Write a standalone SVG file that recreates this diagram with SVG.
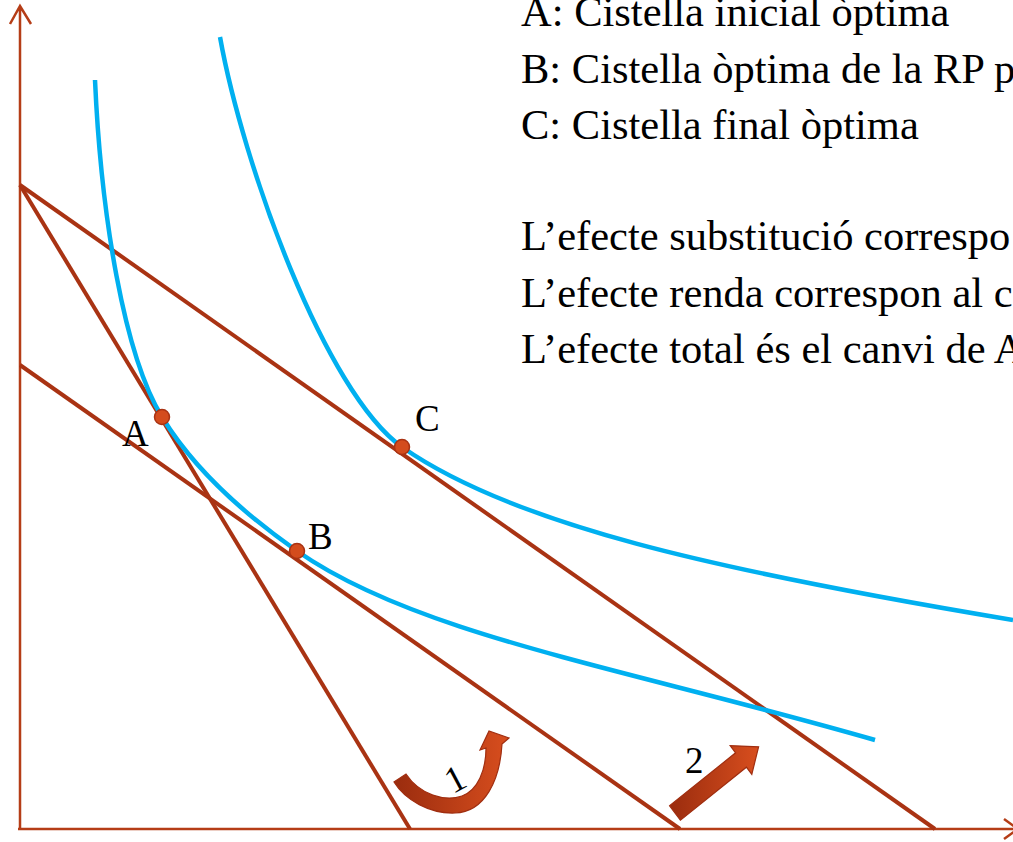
<svg xmlns="http://www.w3.org/2000/svg" width="1013" height="842" viewBox="0 0 1013 842">
<style>
.axis{stroke:#b53d17;stroke-width:2.5;fill:none}
.budget{stroke:#a93313;stroke-width:4;fill:none}
.indiff{stroke:#00b0f0;stroke-width:4.5;fill:none}
.pt{fill:#d44c1d;stroke:#a93313;stroke-width:1.5}
.lbl{font-family:"Liberation Serif",serif;font-size:37px;fill:#000}
.legend{font-family:"Liberation Serif",serif;font-size:42.5px;fill:#000}
.arr{stroke:#a02e10;stroke-width:1.2}
</style>
<defs>
<linearGradient id="g1" x1="0" y1="0" x2="1" y2="0">
<stop offset="0" stop-color="#9a2c0e"/>
<stop offset="1" stop-color="#d84e1e"/>
</linearGradient>
</defs>
<rect width="1013" height="842" fill="#fff"/>
<g id="connectors">
<g id="axes">
<path class="axis" d="M20,830 L20,6 M10,24 L20,6 L31,24"/>
<path class="axis" d="M18,829 L1018,829 M1004,819 L1018,829 L1004,839"/>
</g>
<g id="budget-lines">
<path class="budget" d="M20,185 L410,829"/>
<path class="budget" d="M20,365 L680,829"/>
<path class="budget" d="M20,185 L935,829"/>
</g>
<g id="indifference-curves">
<path class="indiff" d="M95,80 C101,215 124,355 162,417 C192,466 237,509 297,551 C417,635 625,668 875,740"/>
<path class="indiff" d="M220,37 C243,165 325,392 402,447 C512,524 713,570 1013,620"/>
</g>
</g>
<g id="point-A"><circle class="pt" cx="162" cy="417" r="7.5"/><text class="lbl" x="122" y="446">A</text></g>
<g id="point-B"><circle class="pt" cx="297" cy="551" r="7.5"/><text class="lbl" x="308" y="549">B</text></g>
<g id="point-C"><circle class="pt" cx="402" cy="447" r="7.5"/><text class="lbl" x="415" y="431">C</text></g>
<g id="arrow-1">
<path class="arr" fill="url(#g1)" d="M406,774 C420,795 445,802 462,796 C478,790 486,770 486,748 L480,750 L489,731 L509,738 L502,744 C500,780 485,812 455,813 C430,814 405,800 394,782 Z"/>
<text class="lbl" x="0" y="0" font-size="34" text-anchor="middle" transform="translate(461,790) rotate(-28)">1</text>
</g>
<g id="arrow-2">
<polygon class="arr" fill="url(#g1)" points="669.6,805.8 735.6,752.8 730.2,745.6 758.6,746.8 751.8,774.4 746.4,767.2 680.4,820.2"/>
<text class="lbl" x="685" y="773">2</text>
</g>
<g id="legend">
<text class="legend" x="521" y="26">A: Cistella inicial òptima</text>
<text class="legend" x="521" y="83">B: Cistella òptima de la RP p</text>
<text class="legend" x="521" y="139">C: Cistella final òptima</text>
<text class="legend" x="521" y="250">L’efecte substitució correspo</text>
<text class="legend" x="521" y="307">L’efecte renda correspon al c</text>
<text class="legend" x="521" y="363">L’efecte total és el canvi de A</text>
</g>
</svg>
